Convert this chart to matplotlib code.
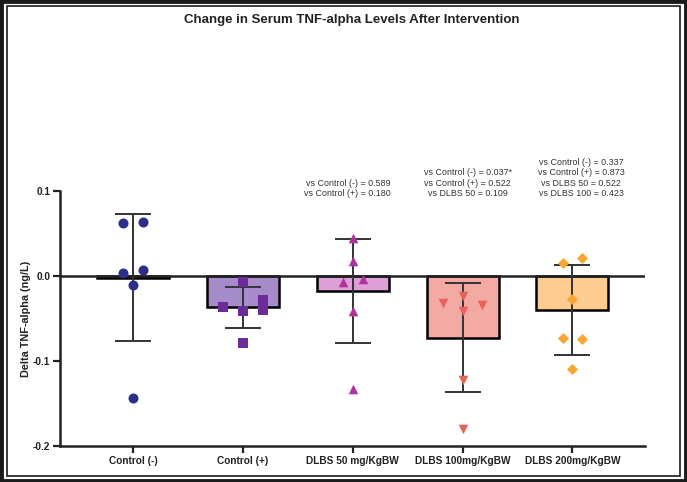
import matplotlib
matplotlib.use("Agg")
import matplotlib.pyplot as plt
from matplotlib.patches import Rectangle

plt.rcParams['font.family'] = ['Liberation Sans', 'DejaVu Sans']

# data
groups = ['Control (-)', 'Control (+)', 'DLBS 50 mg/KgBW', 'DLBS 100mg/KgBW', 'DLBS 200mg/KgBW']
means = [-0.002, -0.037, -0.018, -0.0725, -0.040]
sds = [0.075, 0.0237, 0.061, 0.064, 0.053]

pts_ctrl_neg = [0.062, 0.063, 0.004, 0.007, -0.0106, -0.144]
pts_ctrl_pos = [-0.0067, -0.037, -0.041, -0.028, -0.040, -0.079]
pts_dlbs50 = [0.045, 0.018, -0.0067, -0.004, -0.041, -0.133]
pts_dlbs100 = [-0.024, -0.032, -0.034, -0.041, -0.122, -0.180]
pts_dlbs200 = [0.015, 0.0216, -0.027, -0.0725, -0.0745, -0.109]
points = [pts_ctrl_neg, pts_ctrl_pos, pts_dlbs50, pts_dlbs100, pts_dlbs200]

pvals_dlbs50 = ['vs Control (-) = 0.589', 'vs Control (+) = 0.180']
pvals_dlbs100 = ['vs Control (-) = 0.037*', 'vs Control (+) = 0.522', 'vs DLBS 50 = 0.109']
pvals_dlbs200 = ['vs Control (-) = 0.337', 'vs Control (+) = 0.873', 'vs DLBS 50 = 0.522', 'vs DLBS 100 = 0.423']

# style
bar_fill = ['white', '#a68bcb', '#dc9fd6', '#f2aaa3', '#fdcc90']
pt_color = ['#2c2f88', '#6b2c99', '#b1329f', '#e8625c', '#f8a533']
markers = ['o', 's', '^', 'v', 'D']
msize = [52, 50, 48, 48, 32]
# horizontal jitter of the dots (category units)
jitter = [
    [-0.09, 0.09, -0.09, 0.09, 0.0, 0.0],
    [0.0, -0.18, 0.0, 0.18, 0.18, 0.0],
    [0.0, 0.0, -0.09, 0.09, 0.0, 0.0],
    [0.0, -0.18, 0.18, 0.0, 0.0, 0.0],
    [-0.09, 0.09, 0.0, -0.09, 0.09, 0.0],
]

fig = plt.figure(figsize=(6.87, 4.82), dpi=100)
ax = fig.add_axes([60/687, 1-446/482, (645-60)/687, (446-191)/482])

x = list(range(len(groups)))
ax.bar(x, means, width=0.655, color=bar_fill, edgecolor='black', linewidth=1.8, zorder=2)
ax.axhline(0, color='#222222', lw=1.8, zorder=3)
ax.errorbar(x, means, yerr=sds, fmt='none', ecolor='#333333', elinewidth=1.4,
            capsize=13, capthick=1.4, zorder=4)
for i, vals in enumerate(points):
    xs = [i + j for j in jitter[i]]
    ax.scatter(xs, vals, s=msize[i], marker=markers[i], color=pt_color[i],
               linewidths=0, zorder=5)

ax.set_xlim(-0.664, 4.66)
ax.set_ylim(-0.2, 0.1)
ax.set_yticks([0.1, 0.0, -0.1, -0.2])
ax.set_yticklabels(['0.1', '0.0', '-0.1', '-0.2'])
ax.set_xticks(x)
ax.set_xticklabels(groups)
for lab in ax.get_xticklabels() + ax.get_yticklabels():
    lab.set_fontweight('bold')
    lab.set_fontsize(7.3)
    lab.set_color('#222222')
ax.tick_params(axis='both', length=5, width=1.6, color='#222222', pad=2)
ax.spines['top'].set_visible(False)
ax.spines['right'].set_visible(False)
for s in ['left', 'bottom']:
    ax.spines[s].set_linewidth(1.8)
    ax.spines[s].set_color('#222222')
ax.set_ylabel('Delta TNF-alpha (ng/L)', fontsize=7.8, fontweight='bold', color='#222222', labelpad=1.5)

# p-value notes above the bars
for xpos, lines in [(1.955, pvals_dlbs50), (3.047, pvals_dlbs100), (4.08, pvals_dlbs200)]:
    ax.text(xpos, 0.0915, '\n'.join(lines), ha='center', va='bottom', fontsize=6.4,
            color='#333333', linespacing=1.2, clip_on=False)

fig.text(352/687, 1-20/482, 'Change in Serum TNF-alpha Levels After Intervention',
         ha='center', va='center', fontsize=9.5, fontweight='bold', color='#222222',
         family=['Liberation Sans Narrow', 'Liberation Sans', 'DejaVu Sans'])

# double frame around the picture
fig.patches.append(Rectangle((0.002, 0.003), 0.996, 0.994, transform=fig.transFigure,
                             fill=False, edgecolor='#1a1a1a', linewidth=3.5))
fig.patches.append(Rectangle((7/687, 6/482), 1-14/687, 1-12/482, transform=fig.transFigure,
                             fill=False, edgecolor='#1a1a1a', linewidth=1.2))

fig.savefig('out.png', dpi=100)
